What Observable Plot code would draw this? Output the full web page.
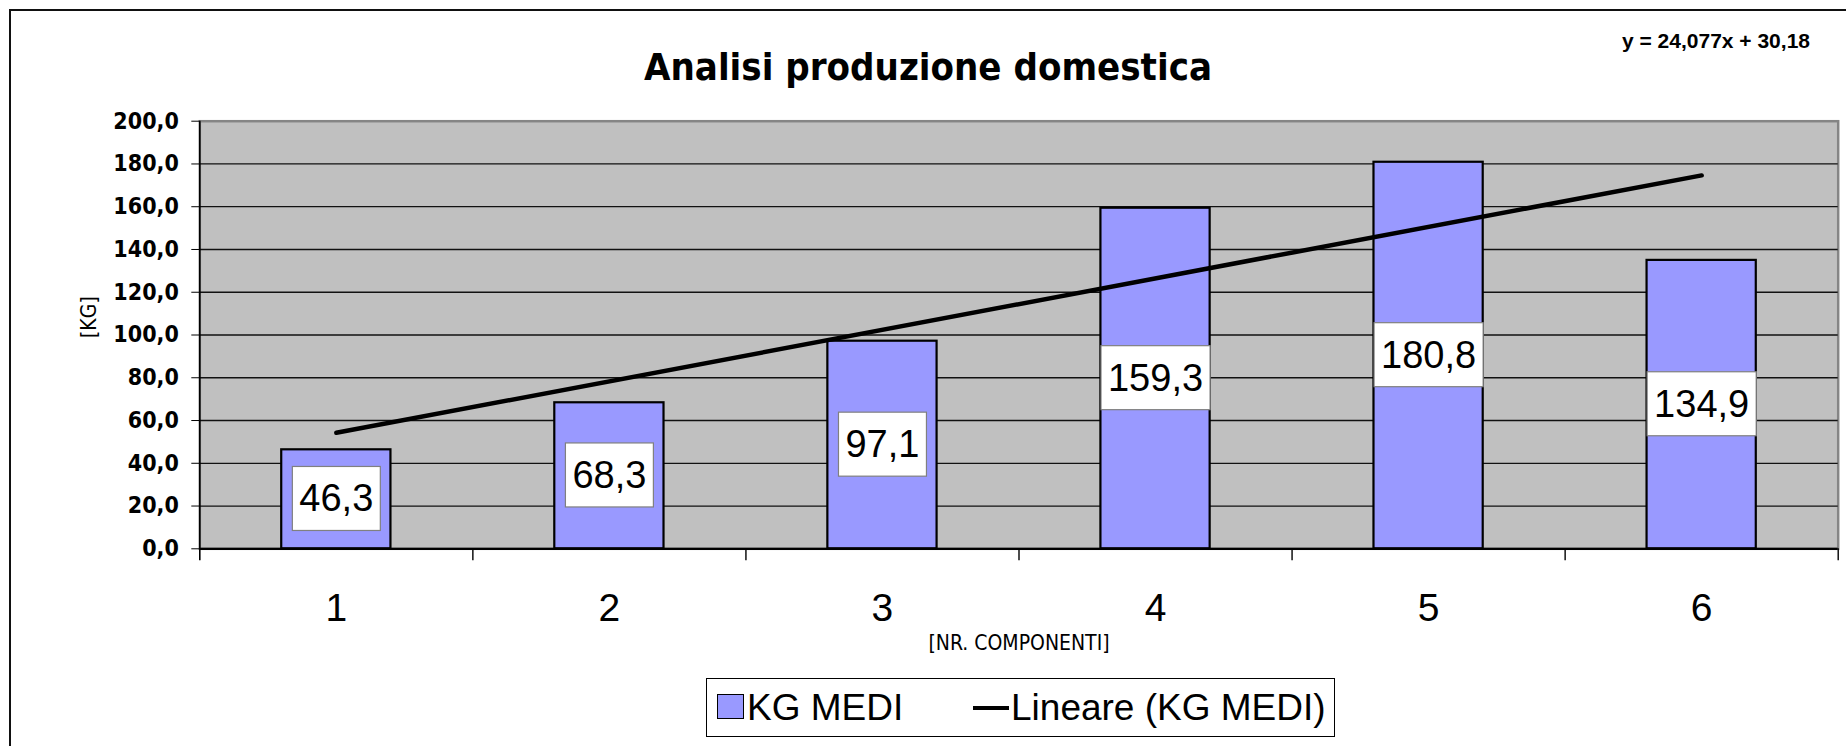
<!DOCTYPE html>
<html>
<head>
<meta charset="utf-8">
<script src="https://cdn.jsdelivr.net/npm/d3@7"></script>
<script src="https://cdn.jsdelivr.net/npm/@observablehq/plot@0.6"></script>
<style>
  body { margin: 0; background: #fff; }
  #wrap { position: relative; width: 1846px; height: 746px; overflow: hidden; background: #fff; }
  #frame { position: absolute; left: 9px; top: 9px; width: 1900px; height: 800px; border: 2px solid #111; }
  #chart { position: absolute; left: 0; top: 0; }
  #title { position: absolute; left: 0; width: 1856px; top: 48px; text-align: center;
           font: bold 38px "DejaVu Sans Condensed", "DejaVu Sans", sans-serif; font-stretch: condensed; line-height: 1; color: #000; }
  #equation { position: absolute; right: 36px; top: 30px; font: bold 21px "Liberation Sans", Arial, sans-serif; line-height: 1; color: #000; white-space: nowrap; }
  #legend { position: absolute; left: 706px; top: 678px; width: 627px; height: 57px; border: 1px solid #000; background: #fff;
            font: 37px "Liberation Sans", Arial, sans-serif; color: #000; }
  #legend .sw { position: absolute; left: 10px; top: 15px; width: 25px; height: 23px; background: #9999FF; border: 1.5px solid #000; }
  #legend .t1 { position: absolute; left: 40px; top: 0; line-height: 57px; white-space: nowrap; }
  #legend .ln { position: absolute; left: 266px; top: 27px; width: 36px; height: 4px; background: #000; }
  #legend .t2 { position: absolute; left: 304px; top: 0; line-height: 57px; white-space: nowrap; }
</style>
</head>
<body>
<div id="wrap">
  <div id="frame"></div>
  <div id="chart"></div>
  <div id="title"></div>
  <div id="equation"></div>
  <div id="legend"><div class="sw"></div><div class="t1"></div><div class="ln"></div><div class="t2"></div></div>
</div>
<script>
// ---- data ----
const components = [1, 2, 3, 4, 5, 6];
const kgMedi = [46.3, 68.3, 97.1, 159.3, 180.8, 134.9];
const yTicks = [0, 20, 40, 60, 80, 100, 120, 140, 160, 180, 200];
const titleText = "Analisi produzione domestica";
const equationText = "y = 24,077x + 30,18";
const xLabel = "[NR. COMPONENTI]";
const yLabel = "[KG]";
const seriesName = "KG MEDI";
const trendName = "Lineare (KG MEDI)";

// ---- build ----
const rows = components.map((c, i) => ({c, v: kgMedi[i]}));
const fmt = d => d.toFixed(1).replace(".", ",");
const boundaries = [0.5, ...components.map(c => c + 0.5)];
const tahomaLike = "'DejaVu Sans Condensed', 'DejaVu Sans', sans-serif";
const arialLike = "'Liberation Sans', Arial, sans-serif";

const W = 1846, H = 746;
const mL = 199.3, mR = 8.3, mT = 120.7, mB = 197.7;
const plotH = H - mT - mB;

const chart = Plot.plot({
  width: W, height: H,
  marginLeft: mL, marginRight: mR, marginTop: mT, marginBottom: mB,
  x: {type: "linear", domain: [0.5, 6.5], axis: null},
  y: {domain: [0, 200], axis: null},
  style: {background: "transparent", overflow: "visible", color: "#000"},
  marks: [
    Plot.frame({fill: "#C0C0C0", stroke: "#858585", strokeWidth: 2.5}),
    Plot.ruleY(yTicks.filter(t => t > 0 && t < 200), {stroke: "#111", strokeWidth: 1.3}),
    Plot.rectY(rows, {x1: d => d.c - 0.2, x2: d => d.c + 0.2, y1: 0, y2: "v",
      fill: "#9999FF", stroke: "#000", strokeWidth: 2.2}),
    Plot.linearRegressionY(rows, {x: "c", y: "v", ci: 0, stroke: "#000", strokeWidth: 4.5, strokeLinecap: "round"}),
    Plot.text(rows, {x: "c", y: d => d.v / 2, text: d => fmt(d.v), fontSize: 38, fill: "#000",
      fontFamily: arialLike}),
    Plot.ruleX([0.5], {stroke: "#000", strokeWidth: 1.6, insetBottom: -12}),
    Plot.ruleX(boundaries.slice(1), {stroke: "#000", strokeWidth: 1.4, insetTop: plotH, insetBottom: -12}),
    Plot.ruleY([0], {stroke: "#000", strokeWidth: 2.2}),
    Plot.axisY({ticks: yTicks, tickFormat: fmt, tickSize: 8, tickPadding: 13, fontSize: 23, fontWeight: "bold",
      fontFamily: tahomaLike, label: null, stroke: "#000"}),
    Plot.axisX({ticks: components, tickFormat: d => String(d), tickSize: 0, tickPadding: 44, fontSize: 39,
      fontFamily: arialLike, label: null}),
    Plot.text([xLabel], {text: d => d, frameAnchor: "bottom", dy: 101, fontSize: 21, fontFamily: tahomaLike, fill: "#000"}),
    Plot.text([yLabel], {text: d => d, frameAnchor: "left", dx: -111, dy: 3, rotate: -90, fontSize: 21, fontFamily: tahomaLike, fill: "#000"})
  ]
});
document.getElementById("chart").appendChild(chart);

// white boxes behind the data labels
const labelSet = new Set(kgMedi.map(fmt));
chart.querySelectorAll("text").forEach(t => {
  if (!labelSet.has(t.textContent)) return;
  const b = t.getBBox();
  const r = document.createElementNS("http://www.w3.org/2000/svg", "rect");
  const cy = b.y + b.height / 2;
  r.setAttribute("x", b.x - 7);
  r.setAttribute("width", b.width + 14);
  r.setAttribute("y", cy - 32);
  r.setAttribute("height", 64);
  r.setAttribute("fill", "#fff");
  r.setAttribute("stroke", "#808080");
  r.setAttribute("stroke-width", 1.2);
  const tr = t.getAttribute("transform");
  if (tr) r.setAttribute("transform", tr);
  t.parentNode.insertBefore(r, t);
});

document.getElementById("title").textContent = titleText;
document.getElementById("equation").textContent = equationText;
document.querySelector("#legend .t1").textContent = seriesName;
document.querySelector("#legend .t2").textContent = trendName;
</script>
</body>
</html>
